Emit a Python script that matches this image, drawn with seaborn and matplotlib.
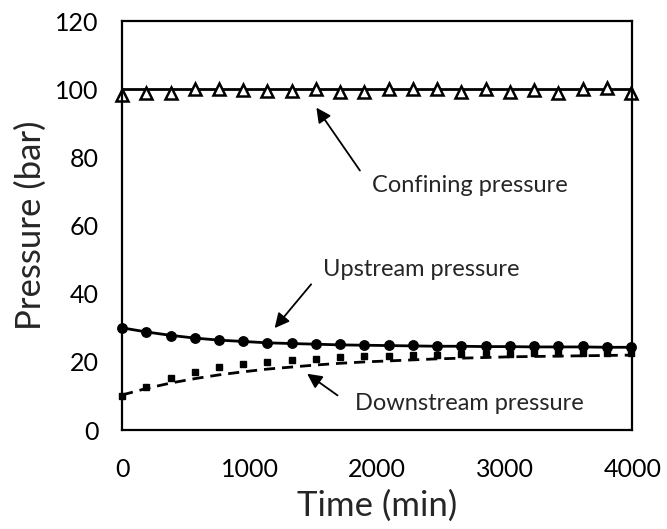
import numpy as np
import pandas as pd
import matplotlib.pyplot as plt
import seaborn as sns

sns.set_style("white")
plt.rcParams['font.family'] = ['Lato', 'DejaVu Sans']

# measured data (min, bar)
time = [0, 190, 380, 570, 760, 950, 1140, 1330, 1520, 1710, 1900,
        2090, 2280, 2470, 2660, 2850, 3040, 3230, 3420, 3610, 3800, 3990]
confining = [98.4, 99.0, 99.0, 100.1, 100.0, 99.7, 99.4, 99.4, 100.0, 99.3, 99.3,
             100.1, 100.0, 100.0, 99.3, 100.0, 99.3, 99.8, 99.0, 100.0, 100.3, 99.0]
upstream = [30.0, 28.7, 27.6, 26.9, 26.4, 26.0, 25.7, 25.5, 25.3, 25.2, 25.1,
            25.0, 24.9, 24.8, 24.8, 24.7, 24.7, 24.6, 24.6, 24.6, 24.5, 24.5]
downstream = [10.0, 12.7, 15.2, 16.9, 18.5, 19.5, 20.1, 20.6, 21.0, 21.3, 21.6,
              21.8, 22.0, 22.1, 22.2, 22.3, 22.4, 22.5, 22.5, 22.6, 22.6, 22.7]

# model curves
confining_fit = [100.0, 100.0, 100.0, 100.0, 100.0, 100.0, 100.0, 100.0, 100.0, 100.0, 100.0,
                 100.0, 100.0, 100.0, 100.0, 100.0, 100.0, 100.0, 100.0, 100.0, 100.0, 100.0]
upstream_fit = [30.0, 28.8, 27.8, 27.0, 26.4, 26.0, 25.6, 25.4, 25.2, 25.0, 24.9,
                24.8, 24.7, 24.6, 24.6, 24.5, 24.5, 24.4, 24.4, 24.4, 24.3, 24.3]
downstream_fit = [10.3, 12.2, 13.8, 15.1, 16.2, 17.1, 17.9, 18.5, 19.1, 19.6, 20.0,
                  20.3, 20.6, 20.9, 21.1, 21.3, 21.5, 21.6, 21.7, 21.8, 21.9, 22.0]

df = pd.DataFrame({"time": time, "confining": confining, "upstream": upstream,
                   "downstream": downstream, "confining_fit": confining_fit,
                   "upstream_fit": upstream_fit, "downstream_fit": downstream_fit})

fig = plt.figure(figsize=(6.67, 5.29), dpi=100)
ax = fig.add_axes([0.183, 0.187, 0.765, 0.773])

# model lines
sns.lineplot(data=df, x="time", y="confining_fit", ax=ax, color="black", lw=2)
sns.lineplot(data=df, x="time", y="upstream_fit", ax=ax, color="black", lw=2)
ax.plot(df["time"], df["downstream_fit"], color="black", lw=2, dashes=(4, 2.5))

# measurements
ax.plot(df["time"], df["confining"], ls="none", marker="^", ms=9,
        mfc="white", mec="black", mew=1.8, clip_on=False)
ax.plot(df["time"], df["upstream"], ls="none", marker="o", ms=6.8,
        color="black", clip_on=False)
ax.plot(df["time"], df["downstream"], ls="none", marker="s", ms=5,
        color="black", clip_on=False)

ax.set_xlim(0, 4000)
ax.set_ylim(0, 120)
ax.set_xticks([0, 1000, 2000, 3000, 4000])
ax.set_yticks([0, 20, 40, 60, 80, 100, 120])
ax.tick_params(length=0, labelsize=18, colors="black")
ax.tick_params(axis="y", pad=17)
ax.tick_params(axis="x", pad=20)
ax.set_xlabel("Time (min)", fontsize=25, labelpad=6)
ax.set_ylabel("Pressure (bar)", fontsize=25, labelpad=6)
for s in ax.spines.values():
    s.set_color("black")
    s.set_linewidth(1.6)

arrow = dict(arrowstyle="-|>", color="black", lw=1.3, mutation_scale=22)
ax.annotate("", xy=(1511, 95.3), xytext=(1877, 75.5), arrowprops=arrow)
ax.text(2725, 71.8, "Confining pressure", fontsize=17, ha="center", va="center")
ax.annotate("", xy=(1182, 29.3), xytext=(1496, 43.4), arrowprops=arrow)
ax.text(2343, 47.2, "Upstream pressure", fontsize=17, ha="center", va="center")
ax.annotate("", xy=(1433, 17.0), xytext=(1707, 9.7), arrowprops=arrow)
ax.text(2720, 7.9, "Downstream pressure", fontsize=17, ha="center", va="center")

fig.savefig("out.png", dpi=100)
